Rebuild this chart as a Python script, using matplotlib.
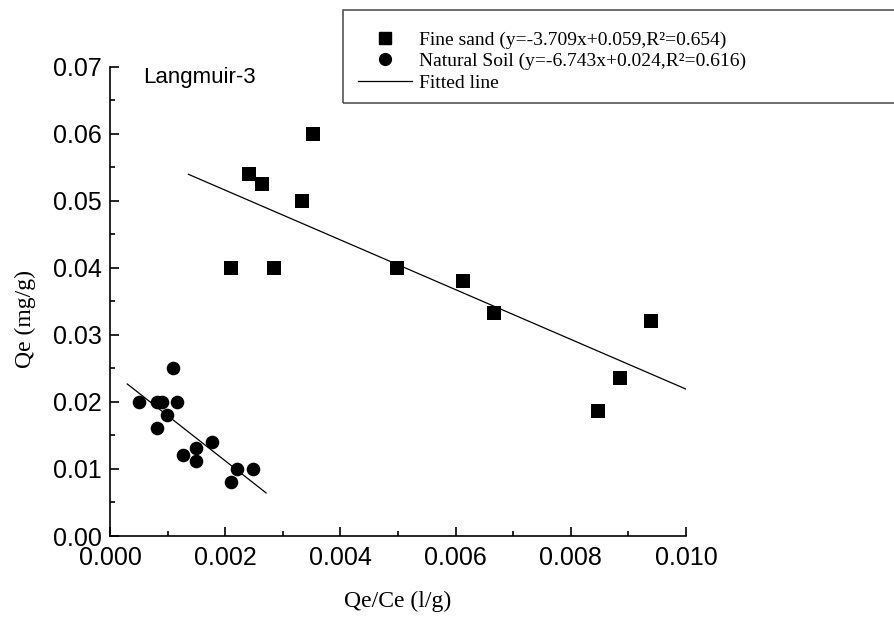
import numpy as np
import matplotlib
matplotlib.use('Agg')
import matplotlib.pyplot as plt
from matplotlib.patches import Rectangle
from matplotlib.lines import Line2D
from matplotlib.ticker import MultipleLocator, FormatStrFormatter

# fine sand points (Qe/Ce, Qe)
sand_x = [0.00210, 0.00241, 0.00264, 0.00285, 0.00333, 0.00352,
          0.00499, 0.00613, 0.00667, 0.00848, 0.00885, 0.00940]
sand_y = [0.0400, 0.0540, 0.0525, 0.0400, 0.0500, 0.0600,
          0.0400, 0.0381, 0.0333, 0.0187, 0.0235, 0.0320]

# natural soil points
soil_x = [0.00050, 0.00082, 0.00091, 0.00117, 0.00110, 0.00099, 0.00082,
          0.00177, 0.00149, 0.00126, 0.00149, 0.00221, 0.00249, 0.00210]
soil_y = [0.0200, 0.0200, 0.0200, 0.0200, 0.0250, 0.0180, 0.0161,
          0.0140, 0.0131, 0.0121, 0.0112, 0.0100, 0.0100, 0.0080]

# fitted lines: slope, intercept, x range
sand_fit = (-3.709, 0.059)
sand_fit_x = [0.00136, 0.0100]
soil_fit = (-6.743, 0.0247)
soil_fit_x = [0.00030, 0.00271]

sand_label = 'Fine sand (y=-3.709x+0.059,R²=0.654)'
soil_label = 'Natural Soil (y=-6.743x+0.024,R²=0.616)'

fig = plt.figure(figsize=(8.94, 6.19), dpi=100)
ax = fig.add_axes([110/894, 1-536/619, 576/894, (536-66.7)/619])

ax.scatter(sand_x, sand_y, marker='s', s=9.4**2, color='black', linewidths=0, zorder=3)
ax.scatter(soil_x, soil_y, marker='o', s=9.8**2, color='black', linewidths=0, zorder=3)

for (m, b), xr in [(sand_fit, sand_fit_x), (soil_fit, soil_fit_x)]:
    xs = np.array(xr)
    ax.plot(xs, m*xs + b, color='black', lw=0.9, zorder=2)

ax.set_xlim(0, 0.010)
ax.set_ylim(0, 0.07)
ax.spines['top'].set_visible(False)
ax.spines['right'].set_visible(False)
for s in ['left', 'bottom']:
    ax.spines[s].set_linewidth(1.2)

ax.xaxis.set_major_locator(MultipleLocator(0.002))
ax.xaxis.set_minor_locator(MultipleLocator(0.001))
ax.yaxis.set_major_locator(MultipleLocator(0.01))
ax.yaxis.set_minor_locator(MultipleLocator(0.005))
ax.xaxis.set_major_formatter(FormatStrFormatter('%.3f'))
ax.yaxis.set_major_formatter(FormatStrFormatter('%.2f'))
ax.tick_params(which='major', direction='in', length=6.5, width=1.2, labelsize=18)
ax.tick_params(which='minor', direction='in', length=3.5, width=1.2)
ax.tick_params(axis='x', pad=7)
ax.tick_params(axis='y', pad=6)
for t in ax.get_xticklabels() + ax.get_yticklabels():
    t.set_fontfamily('Liberation Sans')

fig.text(398/894, 1-601/619, 'Qe/Ce (l/g)', family='Liberation Serif', fontsize=17,
         ha='center', va='center')
fig.text(25/894, 1-319/619, 'Qe (mg/g)', family='Liberation Serif', fontsize=17,
         ha='center', va='center', rotation=90)
ax.text(143/894, 1-78/619, 'Langmuir-3', transform=fig.transFigure,
        family='Liberation Sans', fontsize=16, ha='left', va='center')

# legend box running off the right edge
fig.patches.append(Rectangle((343/894, 1-103/619), 560/894, 93/619,
                             transform=fig.transFigure, fill=False,
                             edgecolor='#555555', lw=1.2))
handles = [
    Line2D([], [], marker='s', ls='none', color='black', markersize=8),
    Line2D([], [], marker='o', ls='none', color='black', markersize=8.5),
    Line2D([], [], color='black', lw=0.9),
]
fig.legend(handles, [sand_label, soil_label, 'Fitted line'],
           loc='upper left', bbox_to_anchor=(358/894, 1-31/619),
           frameon=False, prop={'family': 'Liberation Serif', 'size': 14},
           handlelength=2.8, handletextpad=0.36, labelspacing=0.2,
           borderpad=0, borderaxespad=0)

fig.savefig('out.png', dpi=100)
